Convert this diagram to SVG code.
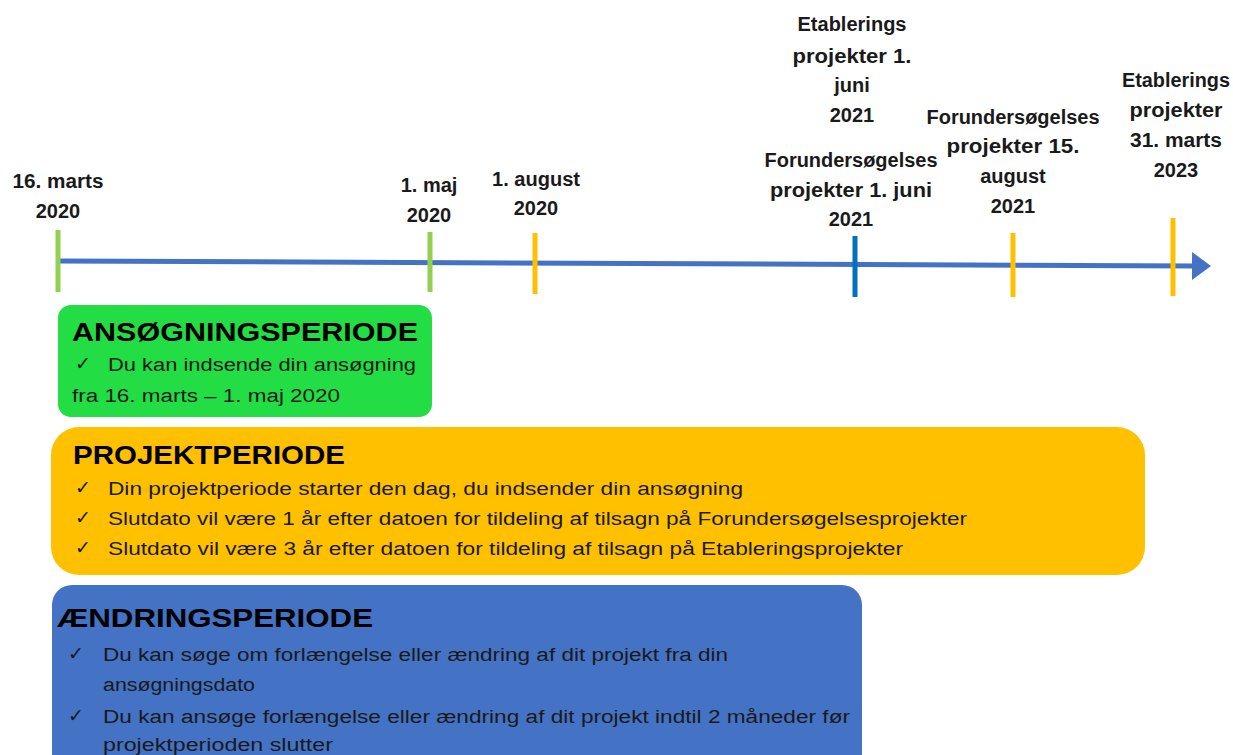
<svg xmlns="http://www.w3.org/2000/svg" width="1233" height="755" viewBox="0 0 1233 755">
<style>
.lbl{font-family:"Liberation Sans",Arial,sans-serif;font-weight:bold;font-size:20px;fill:#1a1a1a;text-anchor:middle}
.ttl{font-family:"Liberation Sans",Arial,sans-serif;font-weight:bold;font-size:26px;fill:#000}
.txt{font-family:"Liberation Sans",Arial,sans-serif;font-size:18px;fill:#1a1a1a}
.chk{font-family:"DejaVu Sans",sans-serif;font-size:19px;font-weight:bold;fill:#1a1a1a}
.tk{stroke-width:5}
</style>
<defs>
<marker id="arr" markerWidth="6" markerHeight="6" refX="1" refY="3" orient="auto" markerUnits="strokeWidth">
<path d="M0,0.2 L3.8,3 L0,5.8 Z" fill="#4472C4"/>
</marker>
</defs>
<rect width="1233" height="755" fill="#fff"/>
<g id="connectors">
<line x1="58" y1="261" x2="1197" y2="266" stroke="#4472C4" stroke-width="5" marker-end="url(#arr)"/>
</g>
<g id="t1">
<line class="tk" x1="58" y1="230" x2="58" y2="292" stroke="#92D050"/>
<text class="lbl" x="58" y="188" textLength="91" lengthAdjust="spacingAndGlyphs">16. marts</text>
<text class="lbl" x="58" y="218">2020</text>
</g>
<g id="t2">
<line class="tk" x1="430" y1="232" x2="430" y2="292" stroke="#92D050"/>
<text class="lbl" x="429" y="192">1. maj</text>
<text class="lbl" x="429" y="222">2020</text>
</g>
<g id="t3">
<line class="tk" x1="535" y1="233" x2="535" y2="294" stroke="#FFC000"/>
<text class="lbl" x="536" y="186" textLength="88" lengthAdjust="spacingAndGlyphs">1. august</text>
<text class="lbl" x="536" y="215">2020</text>
</g>
<g id="t4">
<line class="tk" x1="855" y1="236" x2="855" y2="297" stroke="#0070C0"/>
<text class="lbl" x="852" y="31" textLength="109" lengthAdjust="spacingAndGlyphs">Etablerings</text>
<text class="lbl" x="852" y="63" textLength="119" lengthAdjust="spacingAndGlyphs">projekter  1.</text>
<text class="lbl" x="852" y="92">juni</text>
<text class="lbl" x="852" y="122">2021</text>
<text class="lbl" x="851" y="167" textLength="173" lengthAdjust="spacingAndGlyphs">Forundersøgelses</text>
<text class="lbl" x="851" y="197" textLength="162" lengthAdjust="spacingAndGlyphs">projekter  1. juni</text>
<text class="lbl" x="851" y="226">2021</text>
</g>
<g id="t5">
<line class="tk" x1="1013" y1="233" x2="1013" y2="297" stroke="#FFC000"/>
<text class="lbl" x="1013" y="124" textLength="173" lengthAdjust="spacingAndGlyphs">Forundersøgelses</text>
<text class="lbl" x="1013" y="153" textLength="133" lengthAdjust="spacingAndGlyphs">projekter  15.</text>
<text class="lbl" x="1013" y="183">august</text>
<text class="lbl" x="1013" y="213">2021</text>
</g>
<g id="t6">
<line class="tk" x1="1173" y1="218" x2="1173" y2="296" stroke="#FFC000"/>
<text class="lbl" x="1176" y="87" textLength="108" lengthAdjust="spacingAndGlyphs">Etablerings</text>
<text class="lbl" x="1176" y="117" textLength="93" lengthAdjust="spacingAndGlyphs">projekter</text>
<text class="lbl" x="1176" y="147" textLength="92" lengthAdjust="spacingAndGlyphs">31. marts</text>
<text class="lbl" x="1176" y="177">2023</text>
</g>
<g id="ansoegning">
<rect x="58" y="305" width="374" height="112" rx="13" fill="#22DD44"/>
<text class="ttl" x="72" y="341" textLength="346" lengthAdjust="spacingAndGlyphs">ANSØGNINGSPERIODE</text>
<text class="chk" x="75" y="370">✓</text>
<text class="txt" x="108" y="371" textLength="308" lengthAdjust="spacingAndGlyphs">Du kan indsende din ansøgning</text>
<text class="txt" x="72" y="402" textLength="268" lengthAdjust="spacingAndGlyphs">fra 16. marts – 1. maj 2020</text>
</g>
<g id="projekt">
<rect x="51" y="427" width="1094" height="148" rx="28" fill="#FFC000"/>
<text class="ttl" x="73" y="464" textLength="272" lengthAdjust="spacingAndGlyphs">PROJEKTPERIODE</text>
<text class="chk" x="75" y="494">✓</text>
<text class="txt" x="108" y="495" textLength="635" lengthAdjust="spacingAndGlyphs">Din projektperiode starter den dag, du indsender din ansøgning</text>
<text class="chk" x="75" y="524">✓</text>
<text class="txt" x="108" y="525" textLength="859" lengthAdjust="spacingAndGlyphs">Slutdato vil være 1 år efter datoen for tildeling af tilsagn på Forundersøgelsesprojekter</text>
<text class="chk" x="75" y="554">✓</text>
<text class="txt" x="108" y="555" textLength="795" lengthAdjust="spacingAndGlyphs">Slutdato vil være 3 år efter datoen for tildeling af tilsagn på Etableringsprojekter</text>
</g>
<g id="aendring">
<rect x="52" y="585" width="810" height="200" rx="20" fill="#4472C4"/>
<text class="ttl" x="57" y="627" textLength="316" lengthAdjust="spacingAndGlyphs">ÆNDRINGSPERIODE</text>
<text class="chk" x="68" y="660">✓</text>
<text class="txt" x="103" y="661" textLength="625" lengthAdjust="spacingAndGlyphs">Du kan søge om forlængelse eller ændring af dit projekt fra din</text>
<text class="txt" x="103" y="691" textLength="152" lengthAdjust="spacingAndGlyphs">ansøgningsdato</text>
<text class="chk" x="68" y="722">✓</text>
<text class="txt" x="103" y="723" textLength="747" lengthAdjust="spacingAndGlyphs">Du kan ansøge forlængelse eller ændring af dit projekt indtil 2 måneder før</text>
<text class="txt" x="103" y="751" textLength="230" lengthAdjust="spacingAndGlyphs">projektperioden  slutter</text>
</g>
</svg>
